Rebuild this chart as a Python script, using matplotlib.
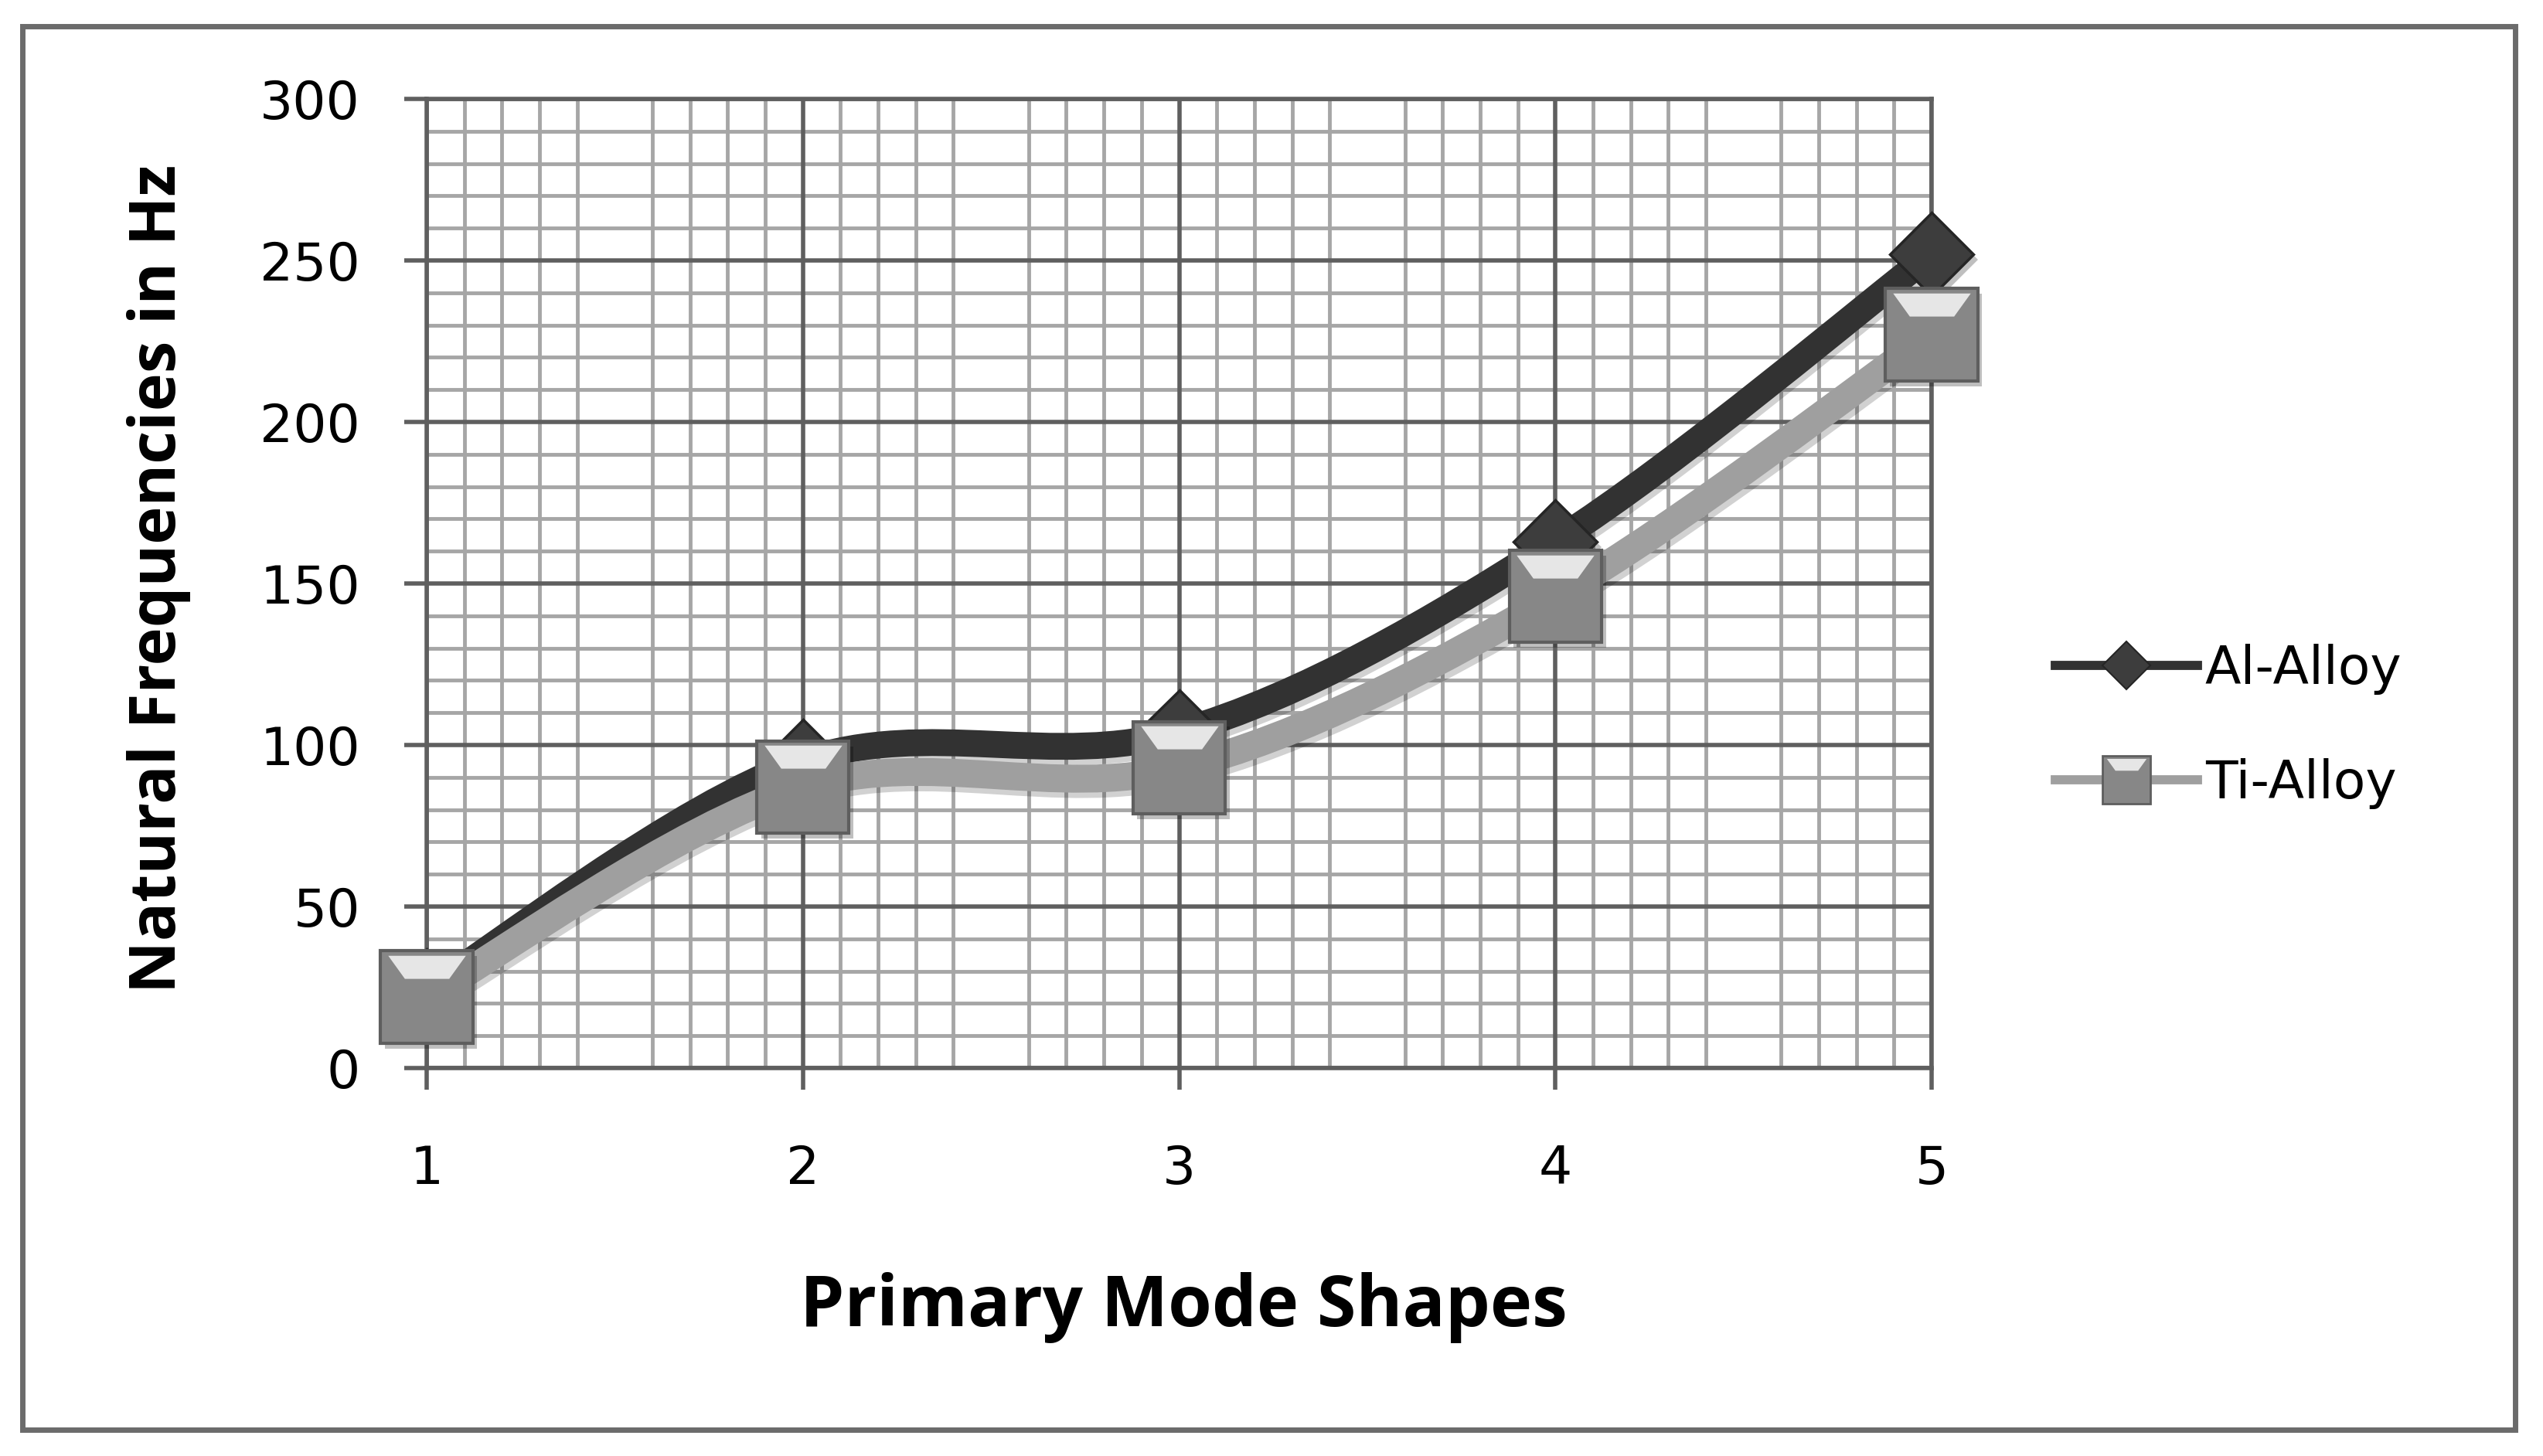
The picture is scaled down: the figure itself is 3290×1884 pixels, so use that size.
import matplotlib
matplotlib.use('Agg')
import matplotlib.pyplot as plt
import numpy as np
from matplotlib.path import Path
from matplotlib.patches import PathPatch, Rectangle
from matplotlib.lines import Line2D
from matplotlib.ticker import MultipleLocator
import matplotlib.patheffects as pe

# ---------------- data ----------------
modes = [1, 2, 3, 4, 5]
al_alloy = [24, 95, 104, 163, 252]
ti_alloy = [22, 87, 93, 146, 227]
series_names = ['Al-Alloy', 'Ti-Alloy']
y_ticks = [0, 50, 100, 150, 200, 250, 300]
x_title = 'Primary Mode Shapes'
y_title = 'Natural Frequencies in Hz'

# ---------------- style ----------------
W, H, DPI = 3290, 1884, 100
plt.rcParams['font.family'] = ['DejaVu Sans']

AL_LINE = '#323232'
AL_FACE = '#3d3d3d'
AL_EDGE = '#252525'
TI_LINE = '#9f9f9f'
TI_FACE = '#878787'
TI_EDGE = '#5e5e5e'
MAJOR = '#5f5f5f'
MINOR = '#a6a6a6'

fig = plt.figure(figsize=(W / DPI, H / DPI), dpi=DPI, facecolor='white')


def fig_rect(x0, y0, x1, y1):
    return [x0 / W, 1 - y1 / H, (x1 - x0) / W, (y1 - y0) / H]


rect = fig_rect(552, 128, 2499, 1382)

# minor grid lives on a background axes so major lines sit on top of it
ax_minor = fig.add_axes(rect, zorder=0)
ax_minor.set_xlim(modes[0], modes[-1])
ax_minor.set_ylim(y_ticks[0], y_ticks[-1])
ax_minor.xaxis.set_minor_locator(MultipleLocator(0.1))
ax_minor.yaxis.set_minor_locator(MultipleLocator(10))
ax_minor.grid(which='minor', color=MINOR, lw=3.5)
ax_minor.grid(which='major', visible=False)
ax_minor.tick_params(which='both', length=0, labelbottom=False, labelleft=False)
for s in ax_minor.spines.values():
    s.set_visible(False)

ax = fig.add_axes(rect, zorder=1)
ax.patch.set_alpha(0)
ax.set_xlim(modes[0], modes[-1])
ax.set_ylim(y_ticks[0], y_ticks[-1])
ax.set_xticks(modes)
ax.set_yticks(y_ticks)
ax.set_axisbelow(True)
ax.grid(which='major', color=MAJOR, lw=4)
for s in ax.spines.values():
    s.set_color(MAJOR)
    s.set_linewidth(4)
ax.tick_params(axis='x', which='major', direction='out', length=20.5, width=4,
               color=MAJOR, labelsize=49, pad=50)
ax.tick_params(axis='y', which='major', direction='out', length=21, width=4,
               color=MAJOR, labelsize=49, pad=41)


def smooth_path(xs, ys):
    P = np.column_stack([xs, ys]).astype(float)
    n = len(P)
    verts = [P[0]]
    codes = [Path.MOVETO]
    for i in range(n - 1):
        p_prev = P[i - 1] if i > 0 else P[i]
        p_next2 = P[i + 2] if i + 2 < n else P[i + 1]
        c1 = P[i] + (P[i + 1] - p_prev) / 6.0
        c2 = P[i + 1] - (p_next2 - P[i]) / 6.0
        verts += [c1, c2, P[i + 1]]
        codes += [Path.CURVE4] * 3
    return Path(np.array(verts), codes)


line_shadow = [pe.SimpleLineShadow(offset=(2.5, -5), shadow_color='black', alpha=0.18),
               pe.Normal()]
marker_shadow = [pe.SimplePatchShadow(offset=(4, -5), shadow_rgbFace='black', alpha=0.25),
                 pe.Normal()]

# highlight (white trapezoid near the top of the square markers)
hl_verts = [(0.5, 0.5), (-0.42, 0.45), (0.42, 0.45), (0.24, 0.20), (-0.24, 0.20), (-0.42, 0.45)]
hl_codes = [Path.MOVETO, Path.MOVETO, Path.LINETO, Path.LINETO, Path.LINETO, Path.CLOSEPOLY]
highlight = Path(hl_verts, hl_codes)

# Al-Alloy
ax.add_patch(PathPatch(smooth_path(modes, al_alloy), fill=False, edgecolor=AL_LINE,
                       lw=25, capstyle='round', joinstyle='round', zorder=3,
                       path_effects=line_shadow, clip_on=False))
ax.plot(modes, al_alloy, ls='none', marker='D', ms=55, mfc=AL_FACE, mec=AL_EDGE,
        mew=2.5, zorder=4, path_effects=marker_shadow, clip_on=False)

# Ti-Alloy
ax.add_patch(PathPatch(smooth_path(modes, ti_alloy), fill=False, edgecolor=TI_LINE,
                       lw=26, capstyle='round', joinstyle='round', zorder=5,
                       path_effects=line_shadow, clip_on=False))
ax.plot(modes, ti_alloy, ls='none', marker='s', ms=86, mfc=TI_FACE, mec=TI_EDGE,
        mew=3, zorder=6, path_effects=marker_shadow, clip_on=False)
ax.plot(modes, ti_alloy, ls='none', marker=highlight, ms=86, mfc='white', mec='none',
        alpha=0.8, zorder=7, clip_on=False)

# legend (proxy handles)
h_al = Line2D([], [], color=AL_LINE, lw=8.5, marker='D', ms=32, mfc=AL_FACE, mec=AL_EDGE, mew=1.5)
h_ti = Line2D([], [], color=TI_LINE, lw=8.5, marker='s', ms=44, mfc=TI_FACE, mec=TI_EDGE, mew=2)
h_ti_hl = Line2D([], [], ls='none', marker=highlight, ms=44, mfc='white', mec='none', alpha=0.8)
ax.legend([h_al, (h_ti, h_ti_hl)], series_names, loc='center left',
          bbox_to_anchor=(2659 / W, 1 - 940 / H), bbox_transform=fig.transFigure,
          frameon=False, fontsize=49, handlelength=2.7, handletextpad=0.15,
          labelspacing=1.2, borderpad=0, borderaxespad=0)

# axis titles
ax.set_xlabel(x_title, fontsize=66, fontweight='bold', family=['Open Sans', 'DejaVu Sans'],
              va='center', ha='center')
ax.xaxis.set_label_coords(0.503, -0.247)
ax.set_ylabel(y_title, fontsize=60, fontweight='bold', family=['Open Sans', 'DejaVu Sans'],
              va='center', ha='center')
ax.yaxis.set_label_coords(-0.178, 0.505)

# outer chart border
fig.add_artist(Rectangle((29 / W, 1 - 1850 / H), (3254 - 29) / W, (1850 - 34) / H,
                         transform=fig.transFigure, fill=False, ec='#6b6b6b', lw=5))

fig.savefig('out.png', dpi=DPI, facecolor='white')
